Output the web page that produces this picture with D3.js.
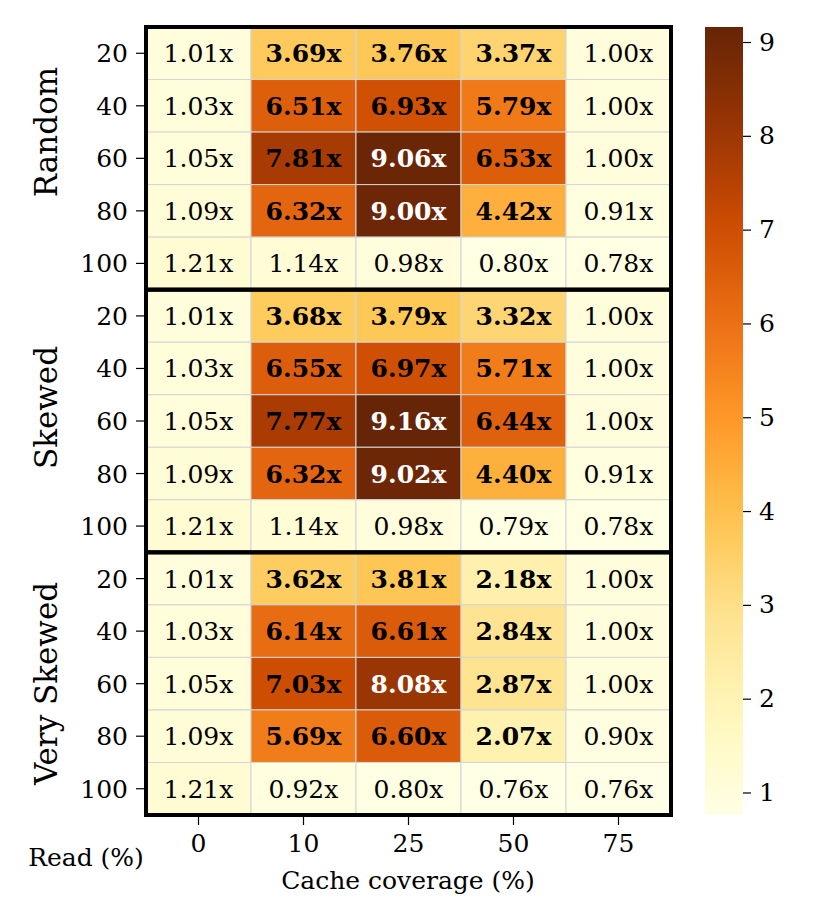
<!DOCTYPE html>
<html>
<head>
<meta charset="utf-8">
<script src="https://cdn.jsdelivr.net/npm/d3@7"></script>
<style>
  body { margin: 0; background: #fff; }
  text { font-family: "DejaVu Serif", serif; }
</style>
</head>
<body>
<div id="chart"></div>
<script>
// data
var groups = ["Random", "Skewed", "Very Skewed"];
var readPct = ["20", "40", "60", "80", "100"];
var coverage = ["0", "10", "25", "50", "75"];

var randomVals = [
    [1.01, 3.69, 3.76, 3.37, 1.00],
    [1.03, 6.51, 6.93, 5.79, 1.00],
    [1.05, 7.81, 9.06, 6.53, 1.00],
    [1.09, 6.32, 9.00, 4.42, 0.91],
    [1.21, 1.14, 0.98, 0.80, 0.78]
];
var skewedVals = [
    [1.01, 3.68, 3.79, 3.32, 1.00],
    [1.03, 6.55, 6.97, 5.71, 1.00],
    [1.05, 7.77, 9.16, 6.44, 1.00],
    [1.09, 6.32, 9.02, 4.40, 0.91],
    [1.21, 1.14, 0.98, 0.79, 0.78]
];
var veryVals = [
    [1.01, 3.62, 3.81, 2.18, 1.00],
    [1.03, 6.14, 6.61, 2.84, 1.00],
    [1.05, 7.03, 8.08, 2.87, 1.00],
    [1.09, 5.69, 6.60, 2.07, 0.90],
    [1.21, 0.92, 0.80, 0.76, 0.76]
];
var cbarTicks = [1, 2, 3, 4, 5, 6, 7, 8, 9];

var groupVals = [randomVals, skewedVals, veryVals];

// flatten into cells
var cells = [];
groupVals.forEach(function(g, gi) {
    g.forEach(function(row, ri) {
        row.forEach(function(v, ci) {
            cells.push({ group: gi, row: gi * 5 + ri, col: ci, value: v });
        });
    });
});

var vmin = d3.min(cells, function(d) { return d.value; });
var vmax = d3.max(cells, function(d) { return d.value; });

// matplotlib YlOrBr (colorbrewer 9 stops, linear segments)
var ylorbr = ["#ffffe5", "#fff7bc", "#fee391", "#fec44f", "#fe9929",
              "#ec7014", "#cc4c02", "#993404", "#662506"];
var color = d3.scaleLinear()
    .domain(d3.range(9).map(function(i) { return vmin + (vmax - vmin) * i / 8; }))
    .range(ylorbr)
    .interpolate(d3.interpolateRgb)
    .clamp(true);

var width = 830, height = 923;
var plot = { left: 146, right: 671, top: 27, bottom: 815 };
var fs = "25px";
// vertical centre of each rotated group label (they sit a bit above the group middle)
var labelY = [132, 407.5, 683.5];

var svg = d3.select("#chart").append("svg")
    .attr("width", width)
    .attr("height", height);

var x = d3.scaleBand()
    .domain(coverage)
    .range([plot.left, plot.right]);

var rowKeys = d3.range(15);
var y = d3.scaleBand()
    .domain(rowKeys)
    .range([plot.top, plot.bottom]);

// cells
svg.append("g").selectAll("rect")
    .data(cells)
    .enter().append("rect")
    .attr("x", function(d) { return x(coverage[d.col]); })
    .attr("y", function(d) { return y(d.row); })
    .attr("width", x.bandwidth())
    .attr("height", y.bandwidth())
    .attr("fill", function(d) { return color(d.value); })
    .attr("stroke", "#d4d4d4")
    .attr("stroke-width", 1);

// cell labels
svg.append("g").selectAll("text")
    .data(cells)
    .enter().append("text")
    .attr("x", function(d) { return x(coverage[d.col]) + x.bandwidth() / 2; })
    .attr("y", function(d) { return y(d.row) + y.bandwidth() / 2; })
    .attr("dy", "0.36em")
    .attr("text-anchor", "middle")
    .style("font-size", fs)
    .style("font-weight", function(d) { return d.value >= 2 ? "bold" : "normal"; })
    .attr("fill", function(d) { return d.value > 8 ? "#fff" : "#000"; })
    .text(function(d) { return d.value.toFixed(2) + "x"; });

// thick frames around each group
svg.append("g").selectAll("rect")
    .data(groups)
    .enter().append("rect")
    .attr("x", plot.left)
    .attr("y", function(d, i) { return y(i * 5); })
    .attr("width", plot.right - plot.left)
    .attr("height", y.bandwidth() * 5)
    .attr("fill", "none")
    .attr("stroke", "#000")
    .attr("stroke-width", 4);

// y ticks
var yTicks = svg.append("g");
rowKeys.forEach(function(r) {
    var cy = y(r) + y.bandwidth() / 2;
    yTicks.append("line")
        .attr("x1", plot.left - 10).attr("x2", plot.left - 2)
        .attr("y1", cy).attr("y2", cy)
        .attr("stroke", "#000").attr("stroke-width", 1.2);
    yTicks.append("text")
        .attr("x", plot.left - 18)
        .attr("y", cy)
        .attr("dy", "0.36em")
        .attr("text-anchor", "end")
        .style("font-size", fs)
        .text(readPct[r % 5]);
});

// group labels
svg.append("g").selectAll("text")
    .data(groups)
    .enter().append("text")
    .attr("transform", function(d, i) {
        return "translate(57," + labelY[i] + ") rotate(-90)";
    })
    .attr("text-anchor", "middle")
    .style("font-size", "31px")
    .text(function(d) { return d; });

// x axis
var xAxis = svg.append("g")
    .attr("transform", "translate(0," + (plot.bottom + 2) + ")")
    .call(d3.axisBottom(x).tickSize(8).tickPadding(9));
xAxis.select(".domain").remove();
xAxis.selectAll("line").attr("stroke-width", 1.2);
xAxis.selectAll("text")
    .style("font-family", "DejaVu Serif, serif")
    .style("font-size", fs);

svg.append("text")
    .attr("x", 408)
    .attr("y", 889)
    .attr("text-anchor", "middle")
    .style("font-size", fs)
    .text("Cache coverage (%)");

svg.append("text")
    .attr("x", 86)
    .attr("y", 866)
    .attr("text-anchor", "middle")
    .style("font-size", fs)
    .text("Read (%)");

// colorbar
var cb = { x: 705, w: 38, top: 27, bottom: 815 };
var cbScale = d3.scaleLinear()
    .domain([vmin, vmax])
    .range([cb.bottom, cb.top]);

var defs = svg.append("defs");
var grad = defs.append("linearGradient")
    .attr("id", "cbgrad")
    .attr("x1", "0").attr("y1", "1")
    .attr("x2", "0").attr("y2", "0");
d3.range(0, 1.0001, 0.05).forEach(function(t) {
    grad.append("stop")
        .attr("offset", t)
        .attr("stop-color", color(vmin + t * (vmax - vmin)));
});

svg.append("rect")
    .attr("x", cb.x)
    .attr("y", cb.top)
    .attr("width", cb.w)
    .attr("height", cb.bottom - cb.top)
    .attr("fill", "url(#cbgrad)");

var cbAxis = svg.append("g")
    .attr("transform", "translate(" + (cb.x + cb.w) + ",0)")
    .call(d3.axisRight(cbScale).tickValues(cbarTicks).tickSize(8).tickPadding(8));
cbAxis.select(".domain").remove();
cbAxis.selectAll("line").attr("stroke-width", 1.2);
cbAxis.selectAll("text")
    .style("font-family", "DejaVu Serif, serif")
    .style("font-size", fs);
</script>
</body>
</html>
